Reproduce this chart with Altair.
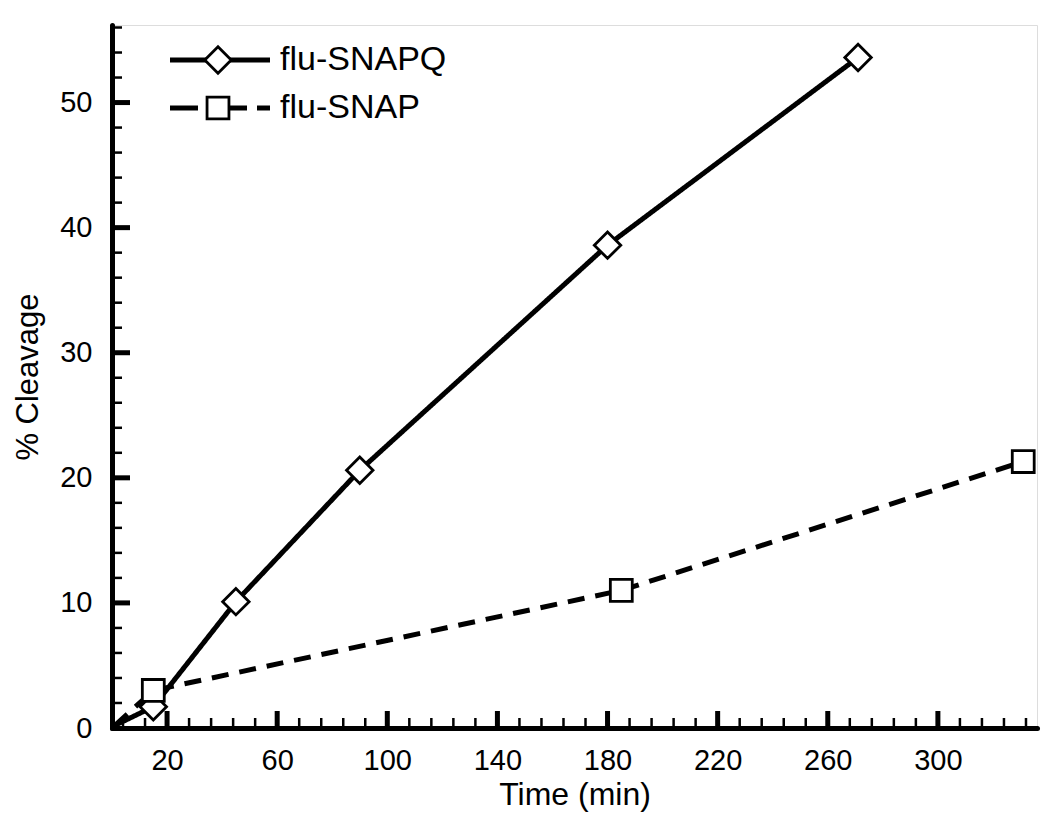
import altair as alt
import pandas as pd

# Data
snapq_time = [1, 15, 45, 90, 180, 271]
snapq_cleav = [0.2, 1.7, 10.1, 20.6, 38.6, 53.6]
snap_time = [1, 15, 185, 331]
snap_cleav = [0.2, 3.0, 11.0, 21.3]

x_major = [20, 60, 100, 140, 180, 220, 260, 300]
x_minor = [v for v in range(4, 336, 8) if v not in x_major]
y_major = [0, 10, 20, 30, 40, 50]
y_minor = [v for v in range(2, 57, 2) if v not in y_major]

W, H = 925, 703
FONT = "Liberation Sans"

line_df = pd.DataFrame(
    {"series": ["flu-SNAPQ"] * len(snapq_time) + ["flu-SNAP"] * len(snap_time),
     "t": snapq_time + snap_time,
     "c": snapq_cleav + snap_cleav}
)
pt_df = line_df[line_df["t"] > 1]

xs = alt.Scale(domain=[0, 336], nice=False, zero=False)
ys = alt.Scale(domain=[0, 56.2], nice=False, zero=False)

xax = alt.Axis(values=x_major, ticks=False, tickSize=0, grid=False, domainColor="black",
               domainWidth=5, domainCap="round", labelFont=FONT, labelFontSize=29,
               labelColor="black", labelPadding=18, title="Time (min)", titleFont=FONT,
               titleFontSize=32, titleFontWeight="normal", titleColor="black", titlePadding=4)
yax = alt.Axis(values=y_major, ticks=False, tickSize=0, grid=False, domainColor="black",
               domainWidth=5, domainCap="round", labelFont=FONT, labelFontSize=29,
               labelColor="black", labelPadding=20, title="% Cleavage", titleFont=FONT,
               titleFontSize=31, titleFontWeight="normal", titleColor="black", titlePadding=15)

base = alt.Chart(line_df)

lines = base.mark_line(color="black", strokeWidth=5, strokeCap="butt").encode(
    x=alt.X("t:Q", scale=xs, axis=xax),
    y=alt.Y("c:Q", scale=ys, axis=yax),
    strokeDash=alt.StrokeDash("series:N", scale=alt.Scale(domain=["flu-SNAPQ", "flu-SNAP"],
                              range=[[1, 0], [17, 11]]), legend=None),
    detail="series:N",
)

pts = alt.Chart(pt_df).mark_point(filled=True, fill="white", stroke="black", strokeWidth=2.8, opacity=1).encode(
    x=alt.X("t:Q", scale=xs),
    y=alt.Y("c:Q", scale=ys),
    shape=alt.Shape("series:N", scale=alt.Scale(domain=["flu-SNAPQ", "flu-SNAP"],
                    range=["diamond", "square"]), legend=None),
    size=alt.Size("series:N", scale=alt.Scale(domain=["flu-SNAPQ", "flu-SNAP"],
                  range=[700, 480]), legend=None),
)

xmaj = alt.Chart(pd.DataFrame({"v": x_major})).mark_rule(color="black", strokeWidth=5).encode(
    x=alt.X("v:Q", scale=xs), y=alt.value(H), y2=alt.value(H - 17))
xmin = alt.Chart(pd.DataFrame({"v": x_minor})).mark_rule(color="black", strokeWidth=2.5).encode(
    x=alt.X("v:Q", scale=xs), y=alt.value(H), y2=alt.value(H - 10))
ymaj = alt.Chart(pd.DataFrame({"v": y_major[1:]})).mark_rule(color="black", strokeWidth=5).encode(
    y=alt.Y("v:Q", scale=ys), x=alt.value(0), x2=alt.value(18))
ymin = alt.Chart(pd.DataFrame({"v": y_minor})).mark_rule(color="black", strokeWidth=2.5).encode(
    y=alt.Y("v:Q", scale=ys), x=alt.value(0), x2=alt.value(10))

# manual legend
leg_names = ["flu-SNAPQ", "flu-SNAP"]
leg_y = [35, 83]
leg_df = pd.DataFrame({"name": leg_names, "ly": leg_y})
leg_line1 = alt.Chart(leg_df.iloc[[0]]).mark_rule(color="black", strokeWidth=5).encode(
    x=alt.value(58), x2=alt.value(158), y=alt.Y("ly:Q", scale=None))
leg_dash = alt.Chart(pd.DataFrame({"a": [58, 116, 145], "b": [86, 135, 158], "ly": [83, 83, 83]})).mark_rule(
    color="black", strokeWidth=5).encode(x=alt.X("a:Q", scale=None), x2="b:Q", y=alt.Y("ly:Q", scale=None))
leg_pts = alt.Chart(leg_df).mark_point(filled=True, fill="white", stroke="black", strokeWidth=2.8, opacity=1).encode(
    x=alt.value(106), y=alt.Y("ly:Q", scale=None),
    shape=alt.Shape("name:N", scale=alt.Scale(domain=leg_names, range=["diamond", "square"]), legend=None),
    size=alt.Size("name:N", scale=alt.Scale(domain=leg_names, range=[700, 480]), legend=None),
)
leg_txt = alt.Chart(leg_df).mark_text(align="left", baseline="middle", font=FONT, fontSize=34, color="black").encode(
    x=alt.value(168), y=alt.Y("ly:Q", scale=None), text="name:N")

chart = alt.layer(xmin, xmaj, ymin, ymaj, lines, pts, leg_line1, leg_dash, leg_pts, leg_txt).properties(
    width=W, height=H,
    autosize=alt.AutoSizeParams(type="none"),
    padding={"left": 104, "top": 17, "right": 5, "bottom": 99},
).configure_view(stroke=None).configure(background="white")

chart.save("out.html", embed_options={"renderer": "svg", "actions": False})
